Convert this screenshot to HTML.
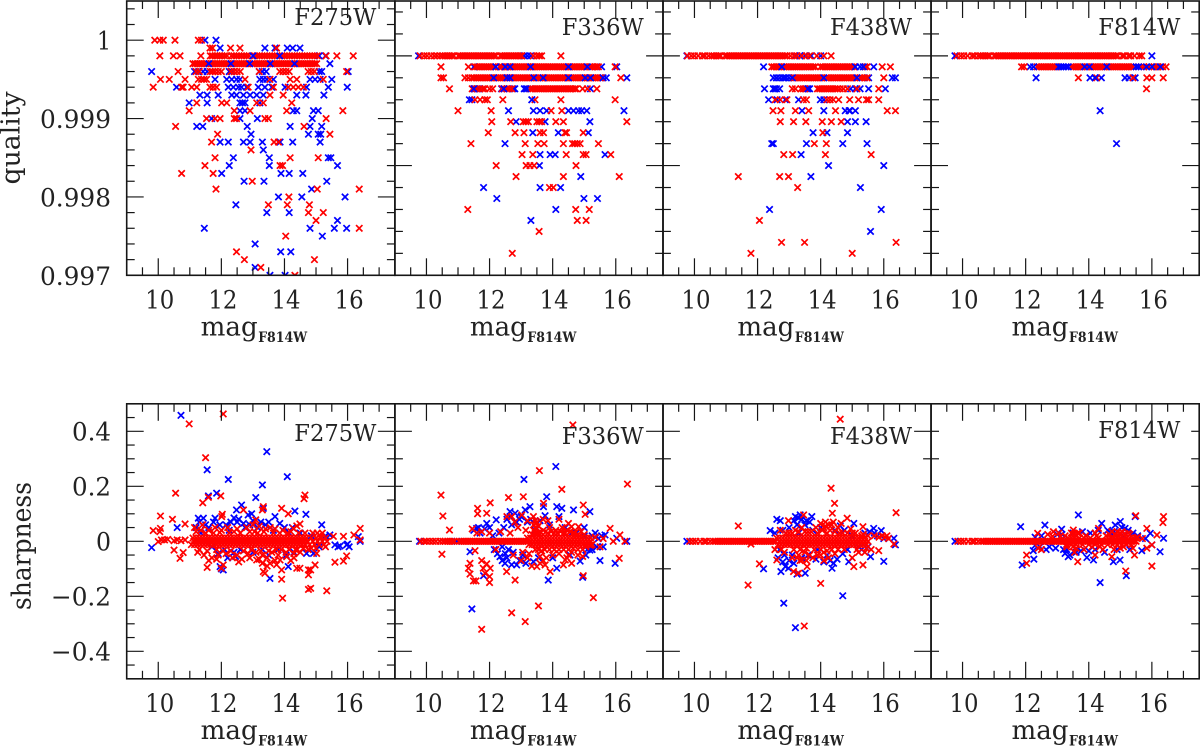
<!DOCTYPE html>
<html lang="en">
<head>
<meta charset="utf-8">
<title>Quality and sharpness versus F814W magnitude</title>
<style>
html,body{margin:0;padding:0;background:#fff;width:1200px;height:746px;overflow:hidden}
svg{display:block}
text{font-family:"DejaVu Serif","Liberation Serif",serif;fill:#222}
</style>
</head>
<body>
<svg id="chart" width="1200" height="746" viewBox="0 0 1200 746" xmlns="http://www.w3.org/2000/svg">
<rect x="0" y="0" width="1200" height="746" fill="#fff"/>
</svg>
<script>
const filters = ['F275W','F336W','F438W','F814W'];
const xMajorTicks = [10,12,14,16];
const xDomain = [9,17.5];
const qualityTickLabels = ['1','0.999','0.998','0.997'];
const qualityTickValues = [1,0.999,0.998,0.997];
const sharpnessTickLabels = ['0.4','0.2','0','\u22120.2','\u22120.4'];
const sharpnessTickValues = [0.4,0.2,0,-0.2,-0.4];

/* Quality rows: [quality, [magnitudes]] */
const qF275Blue = [
[1,[11.48,11.83]],[0.9999,[11.96,13.38,13.7,14.09,14.26,14.49]],[0.9998,[15.1,15.3]],[0.9997,[15.44]],
[0.9996,[9.79,11.15,11.28,11.42,11.55,12.25,12.33,13.2,13.3,13.42,15.1,15.18,16.02]],
[0.9995,[11.8,12.17,12.33,12.48,12.59,13.22,13.33,13.44,13.65,14.81,14.97,15.13,15.5]],
[0.9994,[10.58,12.22,12.38,12.54,12.64,12.8,13.17,13.38,13.6,14.02,14.7,15.39,15.99]],
[0.9993,[11.32,11.55,11.9,12.33,12.48,12.7,12.91,13.12,13.33,14.39,14.68,15.25]],
[0.9992,[10.98,11.55,12.59,12.67,12.75,13.22]],
[0.9991,[12.59,12.75,14.28,14.39,14.92,15.07]],
[0.999,[11.69,12.59,13.14,14.88]],
[0.9989,[11.22,11.41,12.82,14.18,14.81,15.18]],
[0.9988,[12.94,14.76,15.07,15.15]],
[0.9987,[11.96,12.22,12.7,12.91,13.3,13.86,14.26,15.13]],
[0.9986,[13.33]],[0.9985,[12.38,13.52,15.39,15.47]],[0.9984,[12.25,13.52,15.68]],
[0.9983,[12.01,13.89,14.15,14.58]],[0.9982,[12.72,13.35,15.34]],[0.9981,[14.86]],
[0.998,[13.81,14.55,15.92]],[0.9979,[12.46]],[0.9978,[13.44,14.15]],[0.9977,[15.68]],
[0.9976,[11.46,14.81,15.58,15.97]],[0.9975,[15.2]],[0.9974,[13.07]],[0.9973,[13.88,14.2]],
[0.9971,[13.07]],[0.997,[13.54,14.02]]
];
const qF275Red = [
[1,[9.89,10.05,10.16,10.53,11.27,11.37]],
[0.9999,[11.64,11.72,12.29,12.59,13.75]],
[0.9998,[10.05,10.48,10.69,11.35,11.65,11.72,11.8,11.87,11.95,12.02,12.1,12.18,12.32,12.4,12.48,12.56,12.64,12.72,12.8,12.88,13.05,13.13,13.21,13.29,13.37,13.45,13.53,13.61,13.69,13.77,13.92,14,14.08,14.16,14.24,14.32,14.4,14.48,14.56,14.64,14.72,14.8,14.88,14.96,15.04,15.32,15.66,16.18]],
[0.9997,[11.1,11.17,11.24,11.31,11.38,11.45,11.52,11.66,11.73,11.8,11.87,11.94,12.01,12.08,12.15,12.22,12.36,12.43,12.5,12.57,12.64,12.71,12.78,12.85,12.99,13.06,13.13,13.2,13.27,13.34,13.41,13.48,13.62,13.69,13.76,13.83,13.9,13.97,14.04,14.11,14.18,14.25,14.39,14.46,14.53,14.6,14.67,14.74,14.81,14.88,14.95,15.02]],
[0.9996,[10.63,11.2,11.3,11.65,11.72,11.8,11.9,12,12.3,12.4,12.5,12.6,13.2,13.85,13.95,14.05,14.15,14.75,14.85,14.95,15.97]],
[0.9995,[10.07,10.35,10.85,11.27,11.37,11.45,11.53,12.75,13.54,14.18,14.39,15.23]],
[0.9994,[9.84,10.74,10.79,11.06,11.22,11.64,11.74,11.85,12.85,13.65,14.12,14.28,14.44,14.6]],
[0.9993,[13.54,13.96]],[0.9992,[11.22,12.01,12.17,13.12,13.33,14.23]],
[0.9991,[10.98,12.41,12.91,14.07,15.85]],[0.999,[11.53,11.8,11.96,12.41,12.48,13.38,13.49,15.32]],
[0.9989,[10.55,14.62]],[0.9988,[11.88,15.44]],[0.9987,[11.69,13.67,13.81]],[0.9986,[12.94]],
[0.9985,[11.8,14.18,15.07]],[0.9984,[11.48,13.86,13.94]],[0.9983,[10.74,11.74]],[0.9982,[12.98]],
[0.9981,[11.83,15.04,16.37]],[0.998,[14.14]],[0.9979,[13.49,14.09,14.79]],[0.9978,[14.76,15.23]],
[0.9977,[15]],[0.9976,[16.37]],[0.9975,[14.04]],[0.9973,[12.48]],[0.9972,[12.73,14.95]],[0.9971,[13.25]],[0.997,[14.33]]
];
const qF275BlueOver = [[0.9998,[13,13.85]],[0.9997,[11.6,12.3,12.9,13.55,14.32]]];

const qF336Blue = [
[1,[9.75,13.1,13.2,13.3]],[0.9999,[11.5,15.55,16.03]],[0.9998,[15.7,16.35]],
[0.9997,[11.55,11.65,12.38,12.75,12.8,13.1,13.2,13.3,15.2]],[0.9996,[11.36,11.44,13.34]],
[0.9995,[12.6,13.39,13.6,13.81,14.5,14.66,14.82,14.92,15.08,16.26]],[0.9994,[12.84,13.76,15.18]],
[0.9993,[13.37,14.18,15.13]],[0.9992,[12.49]],[0.9991,[13.6,13.92,14.08,15.66]],[0.999,[13.58]],
[0.9989,[14.89]],[0.9988,[11.81,13.6,14.25]],[0.9987,[12.23,14.99,15.42]],[0.9986,[14.1]],[0.9985,[13.31]]
];
const qF336Red = [
[1,[9.8,9.92,10.02,10.14,10.25,10.34,10.44,10.52,10.59,10.66,10.73,10.8,10.87,11.01,11.08,11.15,11.22,11.29,11.36,11.43,11.5,11.57,11.64,11.71,11.78,11.85,11.92,11.99,12.06,12.13,12.2,12.34,12.41,12.48,12.55,12.62,12.69,12.76,12.83,12.9,12.97,13.02,13.39,13.5,13.58,13.65,14.26]],
[0.9999,[10.46,11.33,11.55,11.62,11.69,11.76,11.83,11.9,11.97,12.04,12.11,12.18,12.32,12.39,12.46,12.53,12.6,12.67,12.74,12.81,12.88,12.95,13.02,13.09,13.16,13.23,13.3,13.37,13.44,13.51,13.58,13.65,13.72,13.79,13.86,13.93,14,14.07,14.14,14.21,14.28,14.35,14.42,14.49,14.56,14.63,14.7,14.77,14.84,14.91,14.98,15.05,15.19,15.26,15.33,15.4,15.45,15.98]],
[0.9998,[10.46,10.54,11.22,11.33,11.44,11.51,11.58,11.65,11.72,11.79,11.86,11.93,12,12.07,12.14,12.21,12.28,12.35,12.42,12.49,12.56,12.63,12.7,12.77,12.84,12.91,12.98,13.05,13.12,13.19,13.26,13.33,13.4,13.47,13.54,13.61,13.68,13.75,13.82,13.89,13.96,14.03,14.1,14.17,14.24,14.31,14.38,14.45,14.52,14.59,14.66,14.73,14.8,14.87,14.94,15.01,15.08,15.15,15.22,15.29,15.36,15.43,15.5,15.57,16.16]],
[0.9997,[10.73,11.45,11.52,11.6,11.7,11.78,11.85,12,12.1,12.4,12.47,12.55,12.62,12.7,13.3,13.37,13.44,13.51,13.58,13.65,13.72,13.79,13.86,13.93,14,14.07,14.14,14.21,14.28,14.35,14.42,14.49,14.56,14.63,14.7,14.75,14.95,15.1,15.4]],
[0.9996,[11.54,11.7,11.85,11.93,12.42,13.44,14.26,15.98]],
[0.9995,[11,12.05,13.95,14.29]],[0.9994,[12.07,12.67,13.07,13.15,13.23,13.5,13.58,13.65,14.1,14.34,16.35]],
[0.9993,[11.96,12.81,13.09,13.6,13.71,14.39,14.44,14.97]],
[0.9992,[11.41,13.13,13.53,13.73,14.34,14.63,14.7,14.78,14.87,15.45]],
[0.9991,[13.03,13.37,14.43,14.97,15.06,15.84]],[0.999,[12.21,13.16,13.28,13.41,14.74]],
[0.9989,[12.84,14.34,16.11]],[0.9988,[13.9,14.02]],[0.9986,[11.31,14.73,15.16]],[0.9985,[14.78,15.06]],
[0.9984,[13.57]],[0.9982,[12.72]]
];
const qF336BlueOver = [[0.9999,[12.2,12.5,12.65,13.3,14.5,15.1]],[0.9998,[12.13,12.55,12.65,13.4,13.7,14.5,15.03,15.2,15.6]],[0.9997,[11.5,12.45,13.15]],[0.9996,[13.34]]];

const qF438Blue = [
[1,[9.76,13.2,13.35,13.5,13.7,14]],[0.9999,[12.19,15.68]],[0.9998,[12.5,12.6,12.7,12.8,12.9,13,13.14,15.52,16.27,16.37]],
[0.9997,[12.22,12.5,12.6,12.7,13.55,13.65,14.95,15.1,15.25,15.52,16.05]],[0.9996,[12.35,12.62,12.88,13.3,13.99,14.1]],
[0.9995,[13.41,14.1,14.78,14.9,14.93,15.1]],[0.9994,[14.85,15.1,15.44]],[0.9993,[13.76,14.2,14.85]],
[0.9992,[12.45,12.5,13.55,14.7,15.47]],[0.9991,[13.38]],[0.999,[14.25,16]],[0.9989,[13.69]],[0.9988,[15.26]],
[0.9986,[12.38,15.92]],[0.9984,[15.58]]
];
const qF438Red = [
[1,[9.78,9.9,10,10.12,10.25,10.33,10.45,10.55,10.62,10.69,10.76,10.83,10.97,11.04,11.11,11.18,11.25,11.32,11.39,11.46,11.53,11.6,11.67,11.74,11.81,11.88,11.95,12.02,12.09,12.16,12.23,12.3,12.37,12.44,12.51,12.58,12.65,12.72,12.79,12.86,12.93,13.04,13.15,13.25,13.4,13.55,13.65,13.88,14.1,14.33]],
[0.9999,[12.45,12.52,12.59,12.66,12.73,12.85,12.92,12.99,13.06,13.13,13.2,13.27,13.34,13.41,13.48,13.55,13.62,13.69,13.76,13.83,14,14.07,14.14,14.21,14.28,14.35,14.42,14.49,14.56,14.63,14.7,14.77,14.84,14.91,14.98,15.05,15.4,15.47,15.95,16.21]],
[0.9998,[13.14,13.21,13.28,13.35,13.42,13.49,13.56,13.63,13.7,13.77,13.84,13.91,13.98,14.05,14.19,14.26,14.33,14.4,14.47,14.54,14.61,14.68,14.75,14.82,14.89,14.96,15.03,15.1,15.25,15.32,15.39,15.47,16]],
[0.9997,[13.1,13.2,13.38,13.45,13.5,13.9,13.97,14.04,14.11,14.18,14.25,14.32,14.39,14.46,14.53,14.62,14.72,14.85,15.15,15.84]],
[0.9996,[12.56,12.72,12.93,13.45,13.55,14.2,14.3,14.4,14.57,14.92,15.2,15.45,15.52,15.84]],
[0.9995,[12.49,12.74,13.2,13.62,14.47,16.11,16.37]],[0.9994,[12.72,13.14,13.53,14.05,14.34,14.65]],
[0.9993,[14.07]],[0.9992,[13.8,14.18]],[0.9991,[12.83,13.11,14.15,15.6]],[0.9989,[11.39,12.7,12.98]],[0.9988,[13.27]],
[0.9985,[12.06]],[0.9983,[12.76,13.49,16.39]],[0.9982,[11.79,15]]
];
const qF438BlueOver = [[0.9999,[12.77,15.1,15.25,15.35]],[0.9998,[12.6,12.85,13.1,14.1,15.15]],[0.9997,[12.55,13.6]]];

const qF814Blue = [
[1,[9.76,16]],[0.9999,[12.14]],[0.9998,[12.33,14.04,14.2,14.4,15.15,15.28,15.47]],[0.9995,[14.36]],[0.9992,[14.88]]
];
const qF814Red = [
[1,[9.82,9.94,10.04,10.16,10.3,10.38,10.5,10.58,10.65,10.72,10.79,10.86,11,11.07,11.14,11.21,11.28,11.35,11.42,11.49,11.56,11.63,11.7,11.77,11.84,11.91,11.98,12.05,12.12,12.19,12.26,12.33,12.4,12.47,12.54,12.61,12.68,12.75,12.82,12.89,12.96,13.03,13.1,13.17,13.24,13.31,13.38,13.45,13.52,13.59,13.66,13.73,13.8,13.87,13.94,14.01,14.08,14.15,14.22,14.29,14.36,14.43,14.5,14.57,14.64,14.71,14.78,14.85,14.92,15.06,15.13,15.26,15.33,15.45,15.6,15.68]],
[0.9999,[11.87,11.95,12.36,12.43,12.5,12.57,12.64,12.71,12.78,12.85,12.92,12.99,13.45,13.52,13.59,13.66,13.73,13.8,13.94,14.08,14.15,14.22,14.29,14.36,14.43,14.5,14.64,14.71,14.78,14.85,14.92,14.99,15.06,15.13,15.2,15.27,15.34,15.41,15.66,15.75,15.9,16.07,16.14,16.2,16.34,16.45]],
[0.9998,[13.67,14.25,15.4,15.84,16,16.36]],[0.9997,[15.83]]
];
const qF814BlueOver = [[0.9999,[12.25,13.05,13.12,13.2,13.28,13.35,13.87,14.02,14.57,15.5,15.58,15.83,16,16.27]],[0.9998,[14.2]]];

/* Sharpness scatter: [magnitude, sharpness] */
const sF275Blue = [[10.72,.458],[11.55,.26],[12.22,.225],[13.44,.326],[14.09,.235],[13.3,.205],[13.09,.159],[11.85,.175],[11.59,.165],[10.6,.05],[9.79,-.023],[12.64,.132],[12.48,.114],[14.33,.11],[14.68,.098],[15.18,.06],[11.96,-.092],[12.06,-.104],[12,-.1],[13.54,-.135],[14.12,-.092],[11.27,.084],[11.43,.084],[11.8,.084],[12.96,.1],[12.85,.096],[13.33,.12],[13.7,.09],[15.44,.023],[15.6,-.013],[15.76,-.017],[15.97,-.013],[16.34,.017],[16.4,0],[14.92,-.044],[14.7,-.044],
[11.2,.05],[11.35,.03],[11.6,.05],[11.7,-.02],[11.95,.06],[12.1,-.03],[12.25,.04],[12.3,.07],[12.4,-.04],[12.55,.08],[12.6,-.03],[12.75,.05],[12.9,.06],[13,-.04],[13.15,.05],[13.4,.06],[13.5,-.05],[13.65,.04],[13.8,-.03],[14,.05],[14.15,.03],[14.3,-.04],[14.5,.03],[14.85,.02],[15.1,-.02],[15.3,.02],[15.7,-.02],[16.05,-.02],[16,-.01],
[11.3,.07],[11.5,.06],[11.75,.07],[12.15,.06],[12.4,.085],[12.5,.07],[12.7,.065],[13,.075],[13.25,.07],[13.5,.07],[13.85,.065],[14.25,.05],[12.2,-.06],[12.45,-.055],[11.9,-.045],[13.3,-.03],[14.05,-.05]];
const sF275Red = [[10.98,.427],[12.06,.463],[11.5,.304],[10.55,.175],[14.65,.168],[14.62,.155],[11.41,.14],[11.59,.16],[11.98,.165],[12.03,.098],[12.01,.09],[10.07,.092],[10.45,.08],[9.84,.039],[10.07,.047],[10.05,.035],[10.85,.063],[13.33,.126],[13.3,.114],[13.91,.12],[14.12,.1],[14.49,.063],[14.39,.056],[14.28,.047],[13.09,.078],[12.7,.114],
[11.55,-.095],[12.06,-.086],[12,-.098],[13.94,-.207],[15.34,-.18],[14.76,-.175],[14.83,-.171],[13.91,-.138],[13.33,-.11],[13.38,-.116],[13.91,-.104],[14.76,-.104],[14.83,-.104],[14.97,-.086],[14.76,-.122],[15.6,-.076],[15.87,-.072],[15.97,-.053],[10.69,-.062],[10.5,-.032],[10.79,-.041],[13.12,-.068],[13.54,-.08],[13.86,-.068],[14.07,-.056],[14.39,-.098],[14.49,-.098],[14.39,-.032],[15.02,-.044],
[10,-.001],[10.1,.005],[10.2,.005],[10.3,.007],[10.5,.002],[10.6,.005],[10.72,.002],[10.85,.005],[15.04,.03],[15.15,.018],[15.55,.018],[15.87,.018],[16.2,.023],[16.4,.047],[16.4,.005],
[11.15,.05],[11.25,-.04],[11.4,.06],[11.45,-.05],[11.6,.04],[11.7,-.06],[11.8,.05],[11.9,-.05],[12,.04],[12.15,-.045],[12.2,.05],[12.35,-.06],[12.5,.045],[12.5,-.05],[12.65,-.065],[12.8,.05],[12.85,-.045],[13,.06],[13.1,-.04],[13.2,.055],[13.3,-.05],[13.4,.045],[13.45,-.06],[13.55,.05],[13.6,-.04],[13.7,.045],[13.8,-.05],[13.95,.04],[14.05,-.04],[14.2,.035],[14.3,-.045],[14.5,-.04],[14.65,.03],[14.75,-.03],[14.9,.03],[15,-.025],[15.2,.03],[15.3,-.02],
[11.2,.035],[11.3,-.03],[11.35,.04],[11.5,.03],[11.55,-.035],[11.75,.03],[11.85,-.03],[11.95,.032],[12.05,-.035],[12.25,.03],[12.3,-.035],[12.4,.035],[12.6,.03],[12.7,-.035],[12.9,.035],[12.95,-.03],[13.05,.035],[13.15,.03],[13.25,-.035],[13.35,.035],[13.5,-.035],[13.65,.03],[13.75,-.03],[13.85,.03],[13.9,-.03],[14.1,.03],[14.15,-.03],[14.35,-.03],[14.45,.03],[14.6,-.025],[14.85,-.025],[15.1,.022],[13.2,-.065],[13.3,-.08],[13.45,-.09],[13.7,-.07],[13.75,-.085],[14.2,-.07],[14.3,-.06],[12.55,-.075],[11.85,-.065],[11.6,-.07],[12.9,-.06]];
const sF275RedBand = [
[0.012,[11.1,11.2,11.3,11.4,11.5,11.6,11.7,11.8,11.9,12,12.1,12.2,12.3,12.4,12.5,12.6,12.7,12.8,12.9,13,13.1,13.2,13.3,13.4,13.5,13.6,13.7,13.8,13.9,14,14.1,14.2,14.3,14.4,14.5,14.6,14.7,14.85,15,15.15,15.3]],
[-0.012,[11.05,11.15,11.25,11.35,11.45,11.55,11.65,11.75,11.85,11.95,12.05,12.15,12.25,12.35,12.45,12.55,12.65,12.75,12.85,12.95,13.05,13.15,13.25,13.35,13.45,13.55,13.65,13.75,13.85,13.95,14.05,14.15,14.25,14.35,14.45,14.55,14.65,14.8,14.95,15.1,15.25]],
[0,[11.13,11.23,11.33,11.43,11.53,11.63,11.73,11.83,11.93,12.03,12.13,12.23,12.33,12.43,12.53,12.63,12.73,12.83,12.93,13.03,13.13,13.23,13.33,13.43,13.53,13.63,13.73,13.83,13.93,14.03,14.13,14.23,14.33,14.43,14.53,14.63,14.73,14.9,15.05,15.2,15.35]]
];

const sF336Blue = [[13.09,.225],[14.1,.272],[13.81,.162],[11.44,-.246],[13.86,-.141],[14.95,-.131],[15.98,-.08],[15.5,-.07],[11.38,-.038],[11.81,-.125],[14.66,.114],[15.18,.108],[13.76,.093],[13.28,.126],[13.13,.114],[12.81,.102],[12.65,.108],[12.21,.078],[11.91,.065],[11.59,.047],[14.13,.126],[14.29,.12],[13.71,.126],[15.66,.023],[16.03,.011],[16.35,0],[9.78,0],[10.96,0],[12.49,-.08],[12.33,-.056],[12.6,-.03],[12.86,-.086],[13.39,-.074],[14.13,-.098],[14.87,-.072],[15.18,-.032],[15.4,-.02],
[12.3,.03],[12.45,.05],[12.7,.06],[12.75,-.04],[12.95,.08],[13.05,-.05],[13.2,.07],[13.45,.04],[13.55,-.06],[13.9,.06],[14,-.06],[14.4,.05],[14.55,-.05],[14.75,.03],[15,.02],[15.1,-.03],[15.25,.02],[15.45,.01],[15.6,-.02],[12.1,.02],[11.7,.03],[12.15,-.03],[12.55,-.06],[12.25,-.045],
[11.5,.04],[11.65,.05],[11.85,.045],[12,.05],[12.4,-.02],[12.4,-.07],[12.55,.08],[12.65,.09],[12.85,.07],[13,.09],[13.3,.08],[12.5,-.045],[12.7,-.085],[12.95,-.07],[13.15,-.08],[13.6,.075],[14.2,.09],[14.6,.03],[15,.05],[15.05,-.05],[15.25,-.03],[15.35,.03],[15.55,.02]];
const sF336Red = [[14.64,.423],[13.58,.257],[14.29,.189],[16.37,.208],[10.46,.168],[10.52,.092],[10.73,.041],[10.49,-.047],[11.62,.12],[11.62,.1],[12.02,.14],[12.6,.159],[13.07,.162],[11.91,.102],[13.71,.138],[14.97,.132],[15.03,.098],[15.82,.047],[16.13,.023],[15.92,0],[16.29,0],[16.11,-.062],[15.29,-.205],[14.97,-.125],[13.55,-.235],[12.7,-.26],[13.13,-.292],[11.75,-.32],[12.81,-.141],
[11.38,-.08],[11.33,-.098],[11.38,-.119],[11.49,-.144],[11.57,-.144],[11.54,-.034],[11.75,-.07],[11.91,-.082],[11.8,-.098],[12.02,-.098],[11.86,-.116],[12,-.128],[12,-.15],[12.54,-.11],[13.92,-.11],[13.5,-.092],[13.34,-.09],[13.76,-.086],[14.34,-.086],[14.6,-.08],[14.4,-.068],[14.6,-.04],[14.95,-.055],[13.39,.09],[13.02,.096],[12.55,.09],[13.47,.065],[13.5,.047],[13.55,.03],[14.5,.065],[14.6,.053],[14.82,.053],
[11.45,.045],[11.6,.03],[11.75,.035],[12,.03],[12.2,-.03],[12.35,.035],[12.65,.03],[12.75,-.05],[12.9,.05],[13.05,-.04],[13.15,.04],[13.25,-.045],[13.4,.06],[13.45,.075],[13.6,-.055],[13.7,.04],[13.8,-.06],[13.9,.05],[14,-.05],[14.1,.04],[14.2,-.045],[14.3,.05],[14.4,.03],[14.5,-.03],[14.7,.03],[14.8,-.03],[14.9,.035],[15.05,-.02],[15.2,-.015],[15.35,.015],[15.5,-.02],[15.6,.01],
[13.4,.04],[13.45,.05],[13.5,.03],[13.55,.055],[13.5,.07],[13.45,.03],[13.55,.02],[13.6,.035],[13.35,.025],[13.7,.025],[13.75,-.03],[13.85,.03],[13.95,.035],[14.05,.03],[14.15,.03],[14.25,.035],[14.35,.03],[14.45,.04],[14.55,.035],[14.65,.03],[14.75,.02],[14.85,.02],[15,.025],[13.45,-.03],[13.55,-.03],[13.65,-.035],[13.9,-.03],[14.05,-.03],[14.2,-.03],[14.35,-.03],[14.5,-.05],[14.65,-.025],[14.8,-.05],[14.95,-.03],[13.6,-.08],[13.7,-.07],[13.2,-.06],[13,-.07],[12.8,.07],[12.7,.09],[13.2,.075],[13.7,.08],[13.85,.075],[14.2,.08],[14.45,-.06]];
const sF336RedBand = [
[0,[9.82,9.92,10,10.1,10.2,10.3,10.42,10.52,10.6,10.67,10.74,10.81,10.88,11.04,11.11,11.18,11.25,11.32,11.39,11.46,11.53,11.6,11.67,11.74,11.81,11.88,11.95,12.02,12.09,12.16,12.23,12.3,12.37,12.44,12.51,12.58,12.65,12.72,12.79,12.86,12.93,13,13.07,13.14,13.21,13.3,13.4,13.5,13.6,13.7,13.8,13.9,14,14.1,14.2,14.3,14.4,14.5,14.6,14.7,14.8,14.9,15,15.1,15.2]],
[0.012,[13.2,13.3,13.4,13.5,13.6,13.7,13.8,13.9,14,14.1,14.2,14.3,14.4,14.5,14.6,14.7,14.8,14.9,15,15.1,15.2]],
[-0.012,[13.25,13.35,13.45,13.55,13.65,13.75,13.85,13.95,14.05,14.15,14.25,14.35,14.45,14.55,14.65,14.75,14.85,14.95,15.05,15.15,15.25]]
];

const sF438Blue = [[12.61,.08],[12.72,.075],[12.4,.039],[13.2,.09],[13.35,.096],[13.72,.09],[13.25,.06],[14.62,.056],[15.05,.065],[15.68,.047],[15.92,.039],[16,-.073],[12.19,-.1],[12.74,-.11],[12.88,-.092],[12.98,-.098],[13.51,-.116],[13.25,-.119],[14.36,-.098],[14.41,-.08],[14.52,-.065],[14.89,-.074],[15.58,-.056],[12.83,-.225],[14.7,-.198],[13.2,-.314],[16.37,-.013],[16.32,.011],[9.76,0],
[12.55,.03],[12.7,-.03],[12.8,.04],[12.85,-.05],[13,.05],[13.1,-.05],[13.3,.03],[13.4,-.06],[13.5,.06],[13.6,-.05],[13.75,.04],[13.9,-.03],[14,.05],[14.2,-.05],[14.45,.04],[14.75,.04],[14.85,-.03],[15,.02],[15.2,-.02],[15.4,.03],[15.5,-.02],[15.8,.02],[16,.01],
[12.65,-.06],[12.8,-.075],[13,-.07],[13.15,.075],[13.3,.085],[13.4,.08],[13.15,-.08],[13.55,.075],[13.65,.07],[13.85,-.065],[14.1,-.075],[14.3,-.07],[14.7,-.045],[15.3,-.03],[15.55,.035],[15.7,.03]];
const sF438Red = [[14.62,.444],[14.33,.193],[14.44,.138],[14.37,.102],[16.39,.104],[11.39,.056],[11.79,-.01],[12.06,-.082],[11.7,-.159],[14,-.153],[13.48,-.308],[15.05,-.092],[15.34,-.086],[15.84,-.034],[14.84,.084],[15.34,.053],[12.98,.075],[13.46,.096],[13.14,-.11],[13.3,-.116],[13.57,-.092],[13.41,-.068],[12.61,-.068],[12.55,-.03],[12.72,.04],[12.85,-.04],
[13,.03],[13.1,-.06],[13.2,.04],[13.3,-.05],[13.4,.05],[13.5,-.04],[13.6,.035],[13.75,-.06],[13.85,.05],[13.9,-.05],[14,.065],[14.1,-.07],[14.15,.055],[14.25,-.06],[14.35,.06],[14.45,-.045],[14.55,.05],[14.65,.065],[14.75,-.03],[14.95,.045],[15,-.06],[15.1,.03],[15.2,-.04],[15.3,.02],[15.4,-.04],[15.5,.02],[15.6,-.03],[15.7,.02],[15.95,.02],[16.1,.02],[16.15,.01],[16.32,-.01],
[12.75,-.03],[12.9,.03],[13.1,.03],[13.15,-.03],[13.3,.035],[13.35,-.03],[13.5,.035],[13.55,-.025],[13.7,.035],[13.8,-.03],[13.9,.03],[14,-.03],[14.05,.04],[14.1,.05],[14.2,.03],[14.2,-.035],[14.3,.04],[14.35,-.03],[14.45,.035],[14.55,-.03],[14.6,.03],[14.7,.03],[14.85,.03],[15,.03],[15.15,-.03],[15.35,.025],[15.45,-.025],[13.35,-.07],[13.25,-.06],[13.55,-.07],[14,-.05],[14.1,-.04],[14.15,.07],[14.25,.06],[14.4,.07],[13.65,-.05],[15.85,.015],[16.05,.015]];
const sF438RedBand = [
[0,[9.85,9.95,10.05,10.18,10.3,10.38,10.5,10.6,10.67,10.74,10.81,10.88,10.95,11.02,11.09,11.16,11.23,11.3,11.37,11.44,11.51,11.58,11.65,11.72,11.79,11.86,11.93,12,12.07,12.14,12.21,12.28,12.35,12.42,12.49,12.56,12.7,12.8,12.9,13,13.1,13.2,13.3,13.4,13.5,13.6,13.7,13.8,13.9,14,14.1,14.2,14.3,14.4,14.5,14.6,14.7,14.8,14.9,15,15.1,15.2,15.3,15.4,15.5]],
[0.012,[12.6,12.7,12.8,12.9,13,13.1,13.2,13.3,13.4,13.5,13.6,13.7,13.8,13.9,14,14.1,14.2,14.3,14.4,14.5,14.6,14.7,14.8,14.9,15,15.1,15.2,15.3,15.4]],
[-0.012,[12.65,12.75,12.85,12.95,13.05,13.15,13.25,13.35,13.45,13.55,13.65,13.75,13.85,13.95,14.05,14.15,14.25,14.35,14.45,14.55,14.65,14.75,14.85,14.95,15.05,15.15,15.25,15.35,15.45]]
];

const sF814Blue = [[11.84,.053],[13.67,.096],[12.61,.059],[13.14,.044],[14.41,.065],[15,.072],[14.84,.059],[15.47,.09],[16.37,.011],[16.26,-.038],[16,-.013],[11.89,-.086],[12.26,-.065],[14.36,-.15],[15.19,-.125],[14.78,-.074],[14.99,-.068],[14.15,-.068],[13.94,-.059],[13.25,-.044],[13.35,-.056],[12.3,-.015],[12.24,-.034],[15.68,-.034],[15.95,.029],[15.15,.047],[9.76,0],
[12.3,.015],[12.5,.02],[12.75,-.02],[13,.025],[13.3,-.03],[13.4,-.05],[13.5,.03],[13.6,-.04],[13.8,.035],[14.05,.03],[14.2,-.03],[14.3,.04],[14.5,-.04],[14.7,.03],[14.9,-.03],[15.1,.02],[15.3,-.03],[15.4,.03],[15.55,.02],[15.8,.01],
[12.45,-.02],[12.65,-.03],[12.95,-.025],[13.2,-.03],[13.15,.025],[13.75,-.035],[14,-.035],[14.6,.04],[14.8,.035],[15.05,.05],[15.25,.04]];
const sF814Red = [[16.37,.09],[16.35,.068],[15.49,.093],[16,-.09],[15.17,-.108],[12.03,-.05],[12.03,-.08],[12.38,.029],[12.88,.035],[13.51,.041],[14.31,.047],[15.84,.047],[16.16,.023],[13.65,-.074],[14.2,-.05],[14.73,-.056],[15.45,-.05],[15.84,-.025],[16,-.013],[14.73,.035],[14.9,.035],[12.4,-.025],[12.5,-.03],[12.7,.025],[13.05,.03],[13.3,-.02],[13.45,.03],[13.55,-.04],[13.7,.03],[13.85,-.03],[14.2,.03],[14.45,-.03],[14.65,.025],[15,.03],[15.1,-.02],[15.25,.03],[15.4,-.025],[15.55,.015],[15.7,.01],
[12.85,.018],[13.1,.018],[13.25,.02],[13.55,.028],[13.6,.02],[13.65,.03],[13.5,-.02],[13.6,-.025],[13.9,.02],[14.1,-.02],[14.25,.02],[14.35,-.02],[14.55,.02],[14.85,.025],[14.95,.02],[15.05,.035],[15.15,.028],[15.3,.025],[14.8,-.03],[15,-.025]];
const sF814RedBand = [
[0,[9.85,9.95,10.05,10.18,10.3,10.38,10.5,10.6,10.67,10.74,10.81,10.88,10.95,11.02,11.09,11.16,11.23,11.3,11.37,11.44,11.51,11.58,11.65,11.72,11.79,11.86,11.93,12,12.07,12.14,12.21,12.28,12.35,12.42,12.49,12.56,12.63,12.7,12.77,12.84,12.91,12.98,13.05,13.12,13.19,13.26,13.33,13.4,13.47,13.54,13.61,13.68,13.75,13.82,13.89,13.96,14.03,14.1,14.17,14.24,14.31,14.38,14.45,14.52,14.59,14.66,14.73,14.8,14.87,14.94,15.01,15.08,15.15,15.22,15.29,15.36,15.43,15.5]],
[0.012,[13.35,13.45,13.55,13.7,13.85,14.05,14.3,14.7,14.8,14.9,15,15.1,15.2,15.3,15.4,15.5]],
[-0.012,[13.3,13.45,13.6,13.8,14,14.2,14.4,14.6,14.75,14.9,15.05,15.2,15.35]]
];

const qualityData = [
  {blue:qF275Blue,red:qF275Red,over:qF275BlueOver},
  {blue:qF336Blue,red:qF336Red,over:qF336BlueOver},
  {blue:qF438Blue,red:qF438Red,over:qF438BlueOver},
  {blue:qF814Blue,red:qF814Red,over:qF814BlueOver}
];
const sharpnessData = [
  {blue:sF275Blue,red:sF275Red,band:sF275RedBand},
  {blue:sF336Blue,red:sF336Red,band:sF336RedBand},
  {blue:sF438Blue,red:sF438Red,band:sF438RedBand},
  {blue:sF814Blue,red:sF814Red,band:sF814RedBand}
];

const NS = 'http://www.w3.org/2000/svg';
const svg = document.getElementById('chart');
const BLUE = '#0000ff', RED = '#ff0000', INK = '#161616';
const panelLefts = [126.7,394.9,662.9,931];
const panelWidth = 268.2;
const titleX = [294.3,561.7,830,1098.3];
const magLabelOffset = [74,75,74.5,80.5];
const topTitleY = [25,35,35,35];
const bottomTitleY = [441,444,444,438];

function make(tag, parent) {
  const el = document.createElementNS(NS, tag);
  parent.appendChild(el);
  return el;
}
function linear(d0, d1, r0, r1) {
  return v => r0 + (v - d0) * (r1 - r0) / (d1 - d0);
}
function addLabel(parent, str, x, y, size, width, anchor) {
  const t = make('text', parent);
  t.textContent = str;
  t.setAttribute('x', x);
  t.setAttribute('y', y);
  t.setAttribute('font-size', size);
  t.setAttribute('text-anchor', anchor || 'start');
  t.setAttribute('textLength', width);
  t.setAttribute('lengthAdjust', 'spacingAndGlyphs');
  return t;
}
function addTick(parent, x1, y1, x2, y2) {
  const l = make('line', parent);
  l.setAttribute('x1', x1); l.setAttribute('y1', y1);
  l.setAttribute('x2', x2); l.setAttribute('y2', y2);
  l.setAttribute('stroke', INK);
  l.setAttribute('stroke-width', 1.2);
  
  
}
function addMark(parent, px, py, color) {
  const p = make('path', parent);
  const s = 3.2;
  p.setAttribute('d', 'M' + (px - s) + ' ' + (py - s) + 'L' + (px + s) + ' ' + (py + s) + 'M' + (px - s) + ' ' + (py + s) + 'L' + (px + s) + ' ' + (py - s));
  p.setAttribute('stroke', color);
  p.setAttribute('stroke-width', 1.7);
  p.setAttribute('fill', 'none');
  
  
}
function plotRows(parent, rows, color, sx, sy) {
  rows.forEach(row => row[1].forEach(m => addMark(parent, sx(m), sy(row[0]), color)));
}
function plotPairs(parent, pairs, color, sx, sy) {
  pairs.forEach(p => addMark(parent, sx(p[0]), sy(p[1]), color));
}
function drawFrame(group, left, top, bottom, sx, sy, yDomain, yMinor, yMajor) {
  const right = left + panelWidth;
  const frame = make('rect', group);
  frame.setAttribute('x', left); frame.setAttribute('y', top);
  frame.setAttribute('width', panelWidth); frame.setAttribute('height', bottom - top);
  frame.setAttribute('fill', 'none');
  frame.setAttribute('stroke', INK);
  frame.setAttribute('stroke-width', 1.6);
  
  
  for (let i = 19; i < 35; i++) {
    const m = i / 2;
    const len = Number.isInteger(m / 2) ? 17 : 8;
    addTick(group, sx(m), bottom, sx(m), bottom - len);
    addTick(group, sx(m), top, sx(m), top + len);
  }
  const nMinor = Math.round((yDomain[1] - yDomain[0]) / yMinor);
  const nBase = Math.round(yDomain[0] / yMinor);
  const perMajor = Math.round(yMajor / yMinor);
  for (let i = 0; i <= nMinor; i++) {
    const idx = nBase + i;
    const v = idx * yMinor;
    const len = idx % perMajor === 0 ? 17 : 8;
    addTick(group, left, sy(v), left + len, sy(v));
    addTick(group, right, sy(v), right - len, sy(v));
  }
}

filters.forEach((name, i) => {
  const left = panelLefts[i];
  const sx = linear(xDomain[0], xDomain[1], left, left + panelWidth);
  const clipQ = make('clipPath', svg);
  clipQ.setAttribute('id', 'clip-q' + i);
  const rq = make('rect', clipQ);
  rq.setAttribute('x', left); rq.setAttribute('y', 1); rq.setAttribute('width', panelWidth); rq.setAttribute('height', 274.3);
  const clipS = make('clipPath', svg);
  clipS.setAttribute('id', 'clip-s' + i);
  const rs = make('rect', clipS);
  rs.setAttribute('x', left); rs.setAttribute('y', 403.8); rs.setAttribute('width', panelWidth); rs.setAttribute('height', 275);

  /* quality panel */
  const gq = make('g', svg);
  
  
  const qDomain = i === 0 ? [0.997, 1.0005] : [0.998, 1.0005];
  const sq = linear(qDomain[0], qDomain[1], 275.3, 1);
  const mq = make('g', gq);
  mq.setAttribute('clip-path', 'url(#clip-q' + i + ')');
  
  
  plotRows(mq, qualityData[i].blue, BLUE, sx, sq);
  plotRows(mq, qualityData[i].red, RED, sx, sq);
  plotRows(mq, qualityData[i].over, BLUE, sx, sq);
  drawFrame(gq, left, 1, 275.3, sx, sq, qDomain, 0.0002, 0.001);
  const tq = addLabel(gq, name, titleX[i], topTitleY[i], 23, 82);
  
  

  /* sharpness panel */
  const gs = make('g', svg);
  
  
  const sDomain = [-0.5, 0.5];
  const ss = linear(sDomain[0], sDomain[1], 678.8, 403.8);
  const ms = make('g', gs);
  ms.setAttribute('clip-path', 'url(#clip-s' + i + ')');
  
  
  plotPairs(ms, sharpnessData[i].blue, BLUE, sx, ss);
  plotRows(ms, sharpnessData[i].band, RED, sx, ss);
  plotPairs(ms, sharpnessData[i].red, RED, sx, ss);
  const sMinor = i === 0 ? 0.05 : 0.1;
  const sMajor = i === 0 ? 0.2 : (i === 3 ? 0.5 : 0.4);
  drawFrame(gs, left, 403.8, 678.8, sx, ss, sDomain, sMinor, sMajor);
  const ts = addLabel(gs, name, titleX[i], bottomTitleY[i], 23, 82);
  
  

  /* x tick labels and axis titles, both rows */
  [[gq, 275.3], [gs, 678.8]].forEach(pair => {
    const g = pair[0], base = pair[1];
    xMajorTicks.forEach(m => {
      const t = addLabel(g, String(m), sx(m) + 1.5, base + 33, 25, 29, 'middle');
      
      
    });
    const mag = addLabel(g, 'mag', left + magLabelOffset[i], base + 60, 26, 57);
    
    
    const sub = addLabel(g, 'F814W', left + magLabelOffset[i] + 57.5, base + 66.7, 13.5, 49);
    sub.setAttribute('font-weight', 'bold');
    
    
  });

  /* y tick labels on the first column */
  if (i === 0) {
    qualityTickLabels.forEach((s, k) => {
      const t = addLabel(gq, s, 111, sq(qualityTickValues[k]) + 9.5, 25, s.length > 1 ? 71 : 14, 'end');
      
      
    });
    sharpnessTickLabels.forEach((s, k) => {
      const w = s.length === 1 ? 15 : (s.length === 3 ? 39 : 60);
      const t = addLabel(gs, s, 111, ss(sharpnessTickValues[k]) + 9.3, 25, w, 'end');
      
      
    });
    const qt = addLabel(gq, 'quality', 0, 0, 26.5, 93, 'middle');
    qt.setAttribute('transform', 'translate(19.5 138) rotate(-90)');
    
    
    const st = addLabel(gs, 'sharpness', 0, 0, 26.5, 128, 'middle');
    st.setAttribute('transform', 'translate(30.7 546) rotate(-90)');
    
    
  }
});
</script>
</body>
</html>
